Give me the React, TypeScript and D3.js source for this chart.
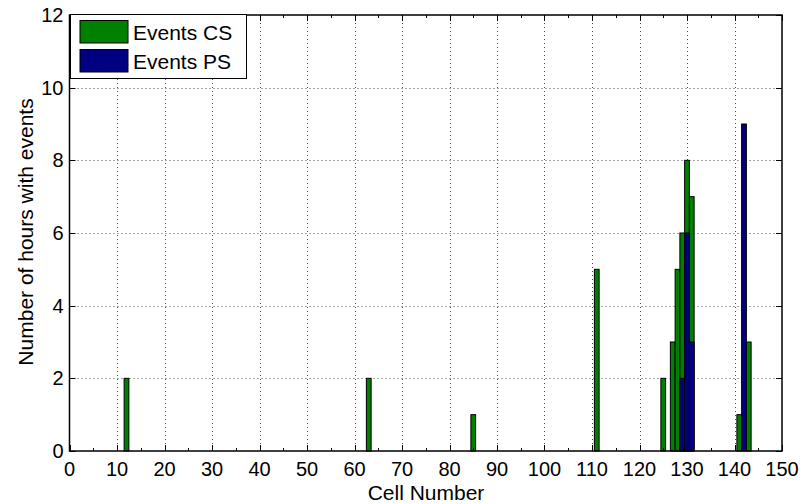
import React from 'react';
import { select, scaleLinear, range } from 'd3';

// cells with events and the hour counts
const csCells = [12, 63, 85, 111, 125, 127, 128, 129, 130, 131, 141, 143];
const csHours = [2, 2, 1, 5, 2, 3, 5, 6, 8, 7, 1, 3];
const psCells = [129, 130, 131, 142];
const psHours = [2, 6, 3, 9];

const xTicks = range(0, 151, 10);
const xMinorTicks = range(5, 150, 10);
const yTicks = range(0, 13, 2);
const legendItems = ['Events CS', 'Events PS'];

const W = 803;
const H = 504;
const margin = { left: 69.5, right: 21, top: 15, bottom: 53 };
const FONT = '"Liberation Sans", Arial, sans-serif';

export default function App() {
  const svgRef = React.useRef<SVGSVGElement>(null);

  React.useEffect(() => {
    const svg = select(svgRef.current);
    svg.selectAll('*').remove();

    const x = scaleLinear().domain([0, 150]).range([margin.left, W - margin.right]);
    const y = scaleLinear().domain([0, 12]).range([H - margin.bottom, margin.top]);
    const [x0, x1] = x.range();
    const [y0, y1] = y.range();

    // grid
    const grid = svg.append('g').attr('stroke', '#000').attr('stroke-width', 1)
      .attr('stroke-dasharray', '1,3').attr('opacity', 0.7);
    grid.selectAll('.gx').data(xTicks.slice(1, -1)).join('line')
      .attr('x1', d => Math.round(x(d)) + 0.5).attr('x2', d => Math.round(x(d)) + 0.5)
      .attr('y1', y1).attr('y2', y0);
    grid.selectAll('.gy').data(yTicks.slice(1, -1)).join('line')
      .attr('y1', d => Math.round(y(d)) + 0.5).attr('y2', d => Math.round(y(d)) + 0.5)
      .attr('x1', x0).attr('x2', x1);

    // bars: green first, blue drawn over it
    const bw = x(1) - x(0);
    const drawBars = (cells: number[], hours: number[], fill: string) => {
      svg.append('g').selectAll('rect').data(cells).join('rect')
        .attr('x', d => x(d) - bw / 2)
        .attr('width', bw)
        .attr('y', (_, i) => y(hours[i]))
        .attr('height', (_, i) => y(0) - y(hours[i]))
        .attr('fill', fill)
        .attr('stroke', '#000')
        .attr('stroke-width', 1);
    };
    drawBars(csCells, csHours, '#008000');
    drawBars(psCells, psHours, '#000080');

    // ticks
    const ticks = svg.append('g').attr('stroke', '#000').attr('stroke-width', 1);
    const tl = 6;
    xTicks.forEach(t => {
      const px = Math.round(x(t)) + 0.5;
      ticks.append('line').attr('x1', px).attr('x2', px).attr('y1', y0).attr('y2', y0 - tl);
      ticks.append('line').attr('x1', px).attr('x2', px).attr('y1', y1).attr('y2', y1 + tl);
    });
    xMinorTicks.forEach(t => {
      const px = Math.round(x(t)) + 0.5;
      ticks.append('line').attr('x1', px).attr('x2', px).attr('y1', y0).attr('y2', y0 - 3);
      ticks.append('line').attr('x1', px).attr('x2', px).attr('y1', y1).attr('y2', y1 + 3);
    });
    yTicks.forEach(t => {
      const py = Math.round(y(t)) + 0.5;
      ticks.append('line').attr('x1', x0).attr('x2', x0 + tl).attr('y1', py).attr('y2', py);
      ticks.append('line').attr('x1', x1).attr('x2', x1 - tl).attr('y1', py).attr('y2', py);
    });

    // box
    svg.append('rect').attr('x', x0).attr('y', y1).attr('width', x1 - x0).attr('height', y0 - y1)
      .attr('fill', 'none').attr('stroke', '#000').attr('stroke-width', 1.5);

    // tick labels
    svg.append('g').selectAll('text').data(xTicks).join('text')
      .attr('x', d => x(d)).attr('y', y0 + 25)
      .attr('text-anchor', 'middle').attr('font-family', FONT).attr('font-size', 20)
      .text(d => d);
    svg.append('g').selectAll('text').data(yTicks).join('text')
      .attr('x', x0 - 6).attr('y', d => y(d) + 7)
      .attr('text-anchor', 'end').attr('font-family', FONT).attr('font-size', 20)
      .text(d => d);

    // axis labels
    svg.append('text').attr('x', 426).attr('y', y0 + 49)
      .attr('text-anchor', 'middle').attr('font-family', FONT).attr('font-size', 21)
      .text('Cell Number');
    svg.append('text').attr('transform', `translate(33,232) rotate(-90)`)
      .attr('text-anchor', 'middle').attr('font-family', FONT).attr('font-size', 21)
      .text('Number of hours with events');

    // legend
    const lg = svg.append('g').attr('transform', `translate(${x0 + 1},${y1 - 0.5})`);
    lg.append('rect').attr('x', 0).attr('y', 0).attr('width', 176).attr('height', 64)
      .attr('fill', '#fff').attr('stroke', '#000').attr('stroke-width', 1);
    const colors = ['#008000', '#000080'];
    legendItems.forEach((name, i) => {
      lg.append('rect').attr('x', 9.5).attr('y', 6 + i * 29).attr('width', 48).attr('height', 22.5)
        .attr('fill', colors[i]).attr('stroke', '#000').attr('stroke-width', 1);
      lg.append('text').attr('x', 62.5).attr('y', 25 + i * 29)
        .attr('font-family', FONT).attr('font-size', 21).text(name);
    });
  }, []);

  return (
    <svg ref={svgRef} width={W} height={H}
      style={{ position: 'absolute', left: 0, top: 0, background: '#fff' }} />
  );
}
